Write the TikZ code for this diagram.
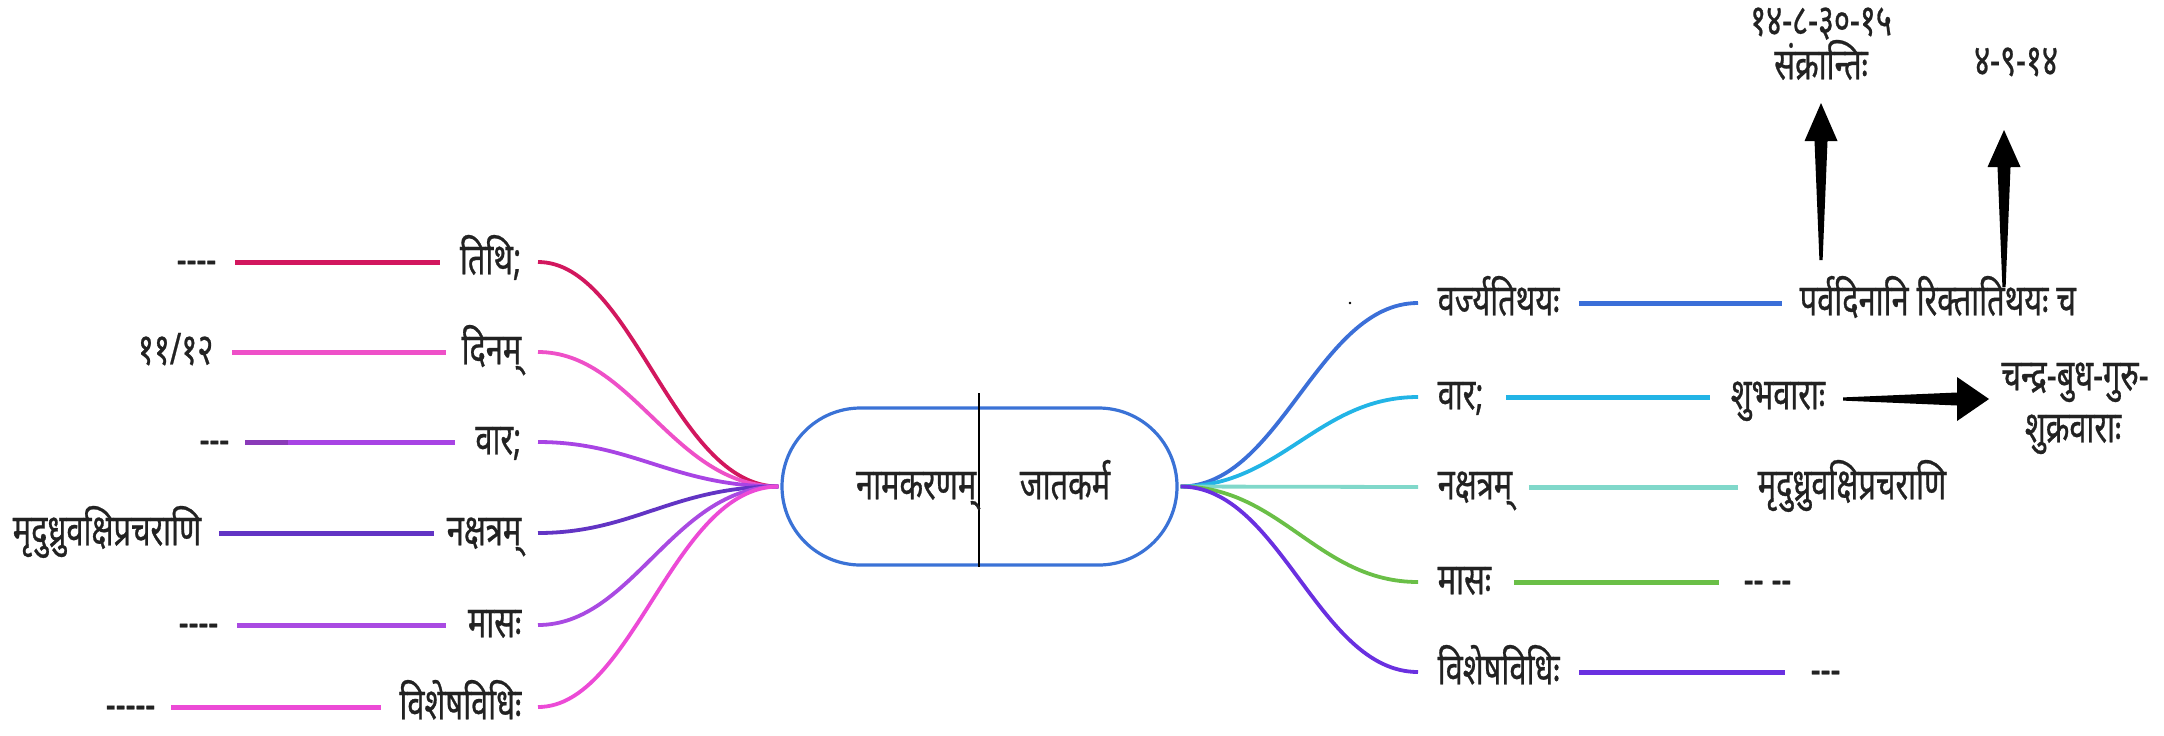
\documentclass[tikz,border=0pt]{standalone}
\usepackage{fontspec}
\newfontfamily\deva[Script=Devanagari,FakeStretch=0.7,FakeBold=0.6]{Noto Sans}
\usetikzlibrary{calc}
\definecolor{cCrim}{HTML}{D2175E}
\definecolor{cPinkA}{HTML}{EE50C8}
\definecolor{cPurA}{HTML}{A844E4}
\definecolor{cPurAd}{HTML}{8A3AB8}
\definecolor{cInd}{HTML}{6234C4}
\definecolor{cPurB}{HTML}{A94AE2}
\definecolor{cPinkB}{HTML}{EC4AD6}
\definecolor{cBlue}{HTML}{3B6FD8}
\definecolor{cCyan}{HTML}{22B4E6}
\definecolor{cTeal}{HTML}{80D8CA}
\definecolor{cGreen}{HTML}{6ABF47}
\definecolor{cViol}{HTML}{6A30E0}
\definecolor{cCap}{HTML}{3A72D6}
\definecolor{cTxt}{HTML}{222222}
\begin{document}
\begin{tikzpicture}[x=0.1mm,y=-0.1mm,
  txt/.style={font=\deva\fontsize{12.5}{14}\selectfont, text=cTxt, inner sep=0pt,
    text height=0.7em, text depth=0pt},
  branch/.style={line width=0.5mm},
  twig/.style={line width=0.38mm},
  bigarrow/.style={fill=black, draw=none}]
\useasboundingbox (0,0) rectangle (2164,735);

% ---------- centre ----------
\node[draw=cCap, line width=0.32mm, rounded corners=7.85mm,
      minimum width=39.5mm, minimum height=15.7mm, inner sep=0pt] (core) at (979.5,486.5) {};
\coordinate (divtop) at (979,393);
\draw[black, line width=0.15mm] (divtop) -- (divtop |- core.south);
\node[txt, anchor=east] (nk) at (977,487) {नामकरणम्};
\node[txt] (jk) at (1065,487) {जातकर्म};
\coordinate (hubL) at ([xshift=-0.2mm]core.west);
\coordinate (hubR) at ([xshift=0.2mm]core.east);

% ---------- left side ----------
\node[txt, anchor=east] (L1) at (522,262) {तिथि;};
\node[txt, anchor=east] (L2) at (522,352) {दिनम्};
\node[txt, anchor=east] (L3) at (522,442) {वार;};
\node[txt, anchor=east] (L4) at (522,533) {नक्षत्रम्};
\node[txt, anchor=east] (L5) at (522,625) {मासः};
\node[txt, anchor=east] (L6) at (522,707) {विशेषविधिः};

\node[txt, anchor=east] (V1) at (217,262) {----};
\node[txt, anchor=east] (V2) at (214,352) {११/१२};
\node[txt, anchor=east] (V3) at (230,442) {---};
\node[txt, anchor=east] (V4) at (202,533) {मृदुध्रुवक्षिप्रचराणि};
\node[txt, anchor=east] (V5) at (219,625) {----};
\node[txt, anchor=east] (V6) at (156,707) {-----};

\draw[branch, cCrim]  ([xshift=1.8mm]V1.east) -- ([xshift=-1.9mm]L1.west);
\draw[branch, cPinkA] ([xshift=1.8mm]V2.east) -- ([xshift=-1.5mm]L2.west);
\draw[branch, cPurA]  ([xshift=1.5mm]V3.east) -- ([xshift=-2.0mm]L3.west);
\draw[branch, cPurAd] ([xshift=1.5mm]V3.east) -- ++(43,0);
\draw[branch, cInd]   ([xshift=1.7mm]V4.east) -- ([xshift=-1.2mm]L4.west);
\draw[branch, cPurB]  ([xshift=1.8mm]V5.east) -- ([xshift=-2.1mm]L5.west);
\draw[branch, cPinkB] ([xshift=1.5mm]V6.east) -- ([xshift=-1.8mm]L6.west);

\draw[twig, cCrim]  ([xshift=1.6mm]L1.east) .. controls +(95,0) and +(-105,0) .. (hubL);
\draw[twig, cPinkA] ([xshift=1.6mm]L2.east) .. controls +(95,0) and +(-105,0) .. (hubL);
\draw[twig, cPurA]  ([xshift=1.6mm]L3.east) .. controls +(95,0) and +(-105,0) .. (hubL);
\draw[twig, cInd]   ([xshift=1.6mm]L4.east) .. controls +(95,0) and +(-105,0) .. (hubL);
\draw[twig, cPurB]  ([xshift=1.6mm]L5.east) .. controls +(95,0) and +(-105,0) .. (hubL);
\draw[twig, cPinkB] ([xshift=1.6mm]L6.east) .. controls +(95,0) and +(-105,0) .. (hubL);

% ---------- right side ----------
\node[txt, anchor=west] (R1) at (1437,303) {वर्ज्यतिथयः};
\node[txt, anchor=west] (R2) at (1437,397) {वार;};
\node[txt, anchor=west] (R3) at (1437,487) {नक्षत्रम्};
\node[txt, anchor=west] (R4) at (1437,582) {मासः};
\node[txt, anchor=west] (R5) at (1437,672) {विशेषविधिः};

\node[txt, anchor=west] (W1) at (1799,303) {पर्वदिनानि रिक्तातिथयः च};
\node[txt, anchor=west] (W2) at (1730,397) {शुभवाराः};
\node[txt, anchor=west] (W3) at (1757,487) {मृदुध्रुवक्षिप्रचराणि};
\node[txt, anchor=west] (W4) at (1743,582) {-- --};
\node[txt, anchor=west] (W5) at (1810,672) {---};

\draw[branch, cBlue]  ([xshift=1.9mm]R1.east) -- ([xshift=-1.7mm]W1.west);
\draw[branch, cCyan]  ([xshift=2.2mm]R2.east) -- ([xshift=-2.0mm]W2.west);
\draw[branch, cTeal]  ([xshift=1.6mm]R3.east) -- ([xshift=-1.9mm]W3.west);
\draw[branch, cGreen] ([xshift=2.2mm]R4.east) -- ([xshift=-2.4mm]W4.west);
\draw[branch, cViol]  ([xshift=1.9mm]R5.east) -- ([xshift=-2.5mm]W5.west);

\draw[twig, cBlue]  (hubR) .. controls +(100,0) and +(-100,0) .. ([xshift=-1.9mm]R1.west);
\draw[twig, cCyan]  (hubR) .. controls +(100,0) and +(-100,0) .. ([xshift=-1.9mm]R2.west);
\draw[twig, cTeal]  (hubR) -- ([xshift=-1.9mm]R3.west);
\draw[twig, cGreen] (hubR) .. controls +(100,0) and +(-100,0) .. ([xshift=-1.9mm]R4.west);
\draw[twig, cViol]  (hubR) .. controls +(100,0) and +(-100,0) .. ([xshift=-1.9mm]R5.west);

\coordinate (dot) at (1350,303);
\fill[black] (dot) circle (1.3);

% ---------- top notes ----------
\node[txt] (d1) at (1821,23) {१४-८-३०-१५};
\node[txt] (sk) at (1821,67) {संक्रान्तिः};
\node[txt] (d2) at (2016,63) {४-९-१४};
\node[txt] (cb) at (2075,378) {चन्द्र-बुध-गुरु-};
\node[txt] (sv) at (2073,430) {शुक्रवाराः};

% ---------- black arrows ----------
\coordinate (a1b) at (1821,260);
\coordinate (a1t) at (1821,103);
\fill[bigarrow] ($(a1b)+(-1.6,0)$) -- ($(a1t)+(-6.5,38)$) -- ($(a1t)+(-16.5,38)$) -- (a1t)
   -- ($(a1t)+(16.5,38)$) -- ($(a1t)+(6.5,38)$) -- ($(a1b)+(1.6,0)$) -- cycle;
\coordinate (a2b) at (2004,287);
\coordinate (a2t) at (2004,130);
\fill[bigarrow] ($(a2b)+(-1.6,0)$) -- ($(a2t)+(-6.5,37)$) -- ($(a2t)+(-16.5,37)$) -- (a2t)
   -- ($(a2t)+(16.5,37)$) -- ($(a2t)+(6.5,37)$) -- ($(a2b)+(1.6,0)$) -- cycle;
\coordinate (a3b) at (1843,399);
\coordinate (a3t) at (1989,399);
\fill[bigarrow] ($(a3b)+(0,-1.6)$) -- ($(a3t)+(-32,-6.5)$) -- ($(a3t)+(-32,-22)$) -- (a3t)
   -- ($(a3t)+(-32,22)$) -- ($(a3t)+(-32,6.5)$) -- ($(a3b)+(0,1.6)$) -- cycle;
\end{tikzpicture}
\end{document}
